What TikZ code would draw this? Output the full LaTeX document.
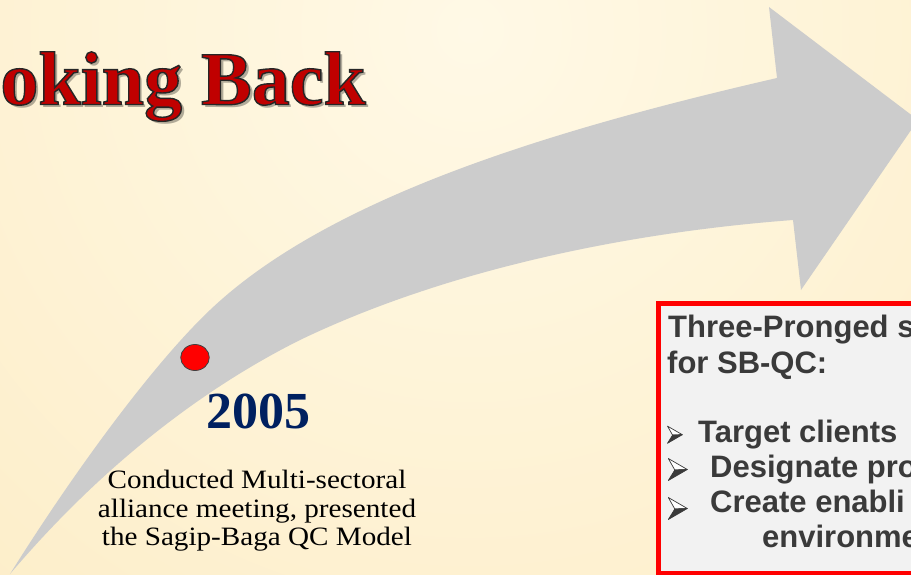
\documentclass[tikz,border=0pt]{standalone}
\usepackage{fontspec}
\usepackage{xcolor}
\usepackage{tikz}
\usetikzlibrary{shapes.geometric,positioning}

\newfontfamily\boxfont{Liberation Sans}
\newfontfamily\seriffont{Liberation Serif}
\newfontfamily\descfont{Liberation Serif}[FakeStretch=1.1]

\definecolor{bglight}{HTML}{FFF9E6}
\definecolor{bgdark}{HTML}{FCE8BA}
\definecolor{arrowgray}{HTML}{CCCCCC}
\definecolor{titlered}{HTML}{C00000}
\definecolor{yearblue}{HTML}{002060}
\definecolor{boxgray}{HTML}{F2F2F2}
\definecolor{boxtext}{HTML}{3A3A3A}

% outlined text (fill + stroke)
\newcommand\outlinetext[1]{\special{pdf:literal direct 2 Tr 1.4 w 0.15 0.15 0.15 RG}#1\special{pdf:literal direct 0 Tr}}

\begin{document}
\begin{tikzpicture}[x=1pt, y=-1pt,
    boxline/.style={anchor=base west, inner sep=0pt, text=boxtext, font=\boxfont\bfseries\fontsize{31}{36}\selectfont},
    descline/.style={anchor=base, inner sep=0pt, text=black, font=\descfont\fontsize{26.5}{29}\selectfont},
    titlefont/.style={anchor=base east, inner sep=0pt, font=\seriffont\bfseries\fontsize{76}{80}\selectfont}]
    \useasboundingbox (0,0) rectangle (911,575);
    \clip (0,0) rectangle (911,575);

    % background
    \shade[inner color=bglight, outer color=bgdark] (470,30) circle (1150);

    % curved arrow
    \fill[arrowgray] (10,574) .. controls (70,478) and (150,367) .. (210,310)
        .. controls (330,196) and (557,128.6) .. (777,78)
        -- (769,7) -- (918,120) -- (801,290) -- (793,220)
        .. controls (633,232) and (450,268) .. (300,340)
        .. controls (200,390) and (100,468) .. (10,574) -- cycle;

    % title
    \node [titlefont, text=black, opacity=0.3] (titleshadow) at (369,107.5) {oking Back};
    \node [titlefont, text=titlered] (title) at (366,104.5) {\outlinetext{oking Back}};

    % 2005
    \node [ellipse, draw=black!75, line width=0.8pt, fill=red, minimum width=28.6pt, minimum height=26pt, inner sep=0pt] (dot2005) at (195,357.5) {};
    \node [anchor=base, inner sep=0pt, text=yearblue, font=\seriffont\bfseries\fontsize{52}{60}\selectfont] (year2005) at (258,428) {2005};
    \node [descline] (desc1) at (257,488) {Conducted Multi-sectoral};
    \node [descline] (desc2) at (257,517) {alliance meeting, presented};
    \node [descline] (desc3) at (257,545) {the Sagip-Baga QC Model};

    % strategy box
    \node [draw=red, line width=5pt, fill=boxgray, anchor=north west, minimum width=300pt, minimum height=270pt, inner sep=0pt] (strategybox) at (655.5,301) {};
    \node [boxline] (prong1) at (668,337) {Three-Pronged s};
    \node [boxline] (prong2) at (667,373) {for SB-QC:};
    \node [boxline] (itemA) at (698,442) {Target clients};
    \node [boxline] (itemB) at (710,477) {Designate pro};
    \node [boxline] (itemC) at (710,512) {Create enabli};
    \node [boxline] (itemC2) at (762,547) {environme};

    % bullets
    \foreach \bx/\by/\bs in {667.5/434.7/0.78, 668.3/469.5/1, 668.3/508.5/1} {
        \begin{scope}[shift={(\bx,\by)}, scale=\bs]
            \filldraw[fill=white, draw=boxtext, line width=0.7pt, line join=round] (0,-11) -- (19,0) -- (6.5,0.5) -- cycle;
            \filldraw[fill=boxtext, draw=boxtext, line width=0.7pt, line join=round] (0,11) -- (19,0) -- (6.5,0.5) -- cycle;
        \end{scope}
    }

\end{tikzpicture}
\end{document}
